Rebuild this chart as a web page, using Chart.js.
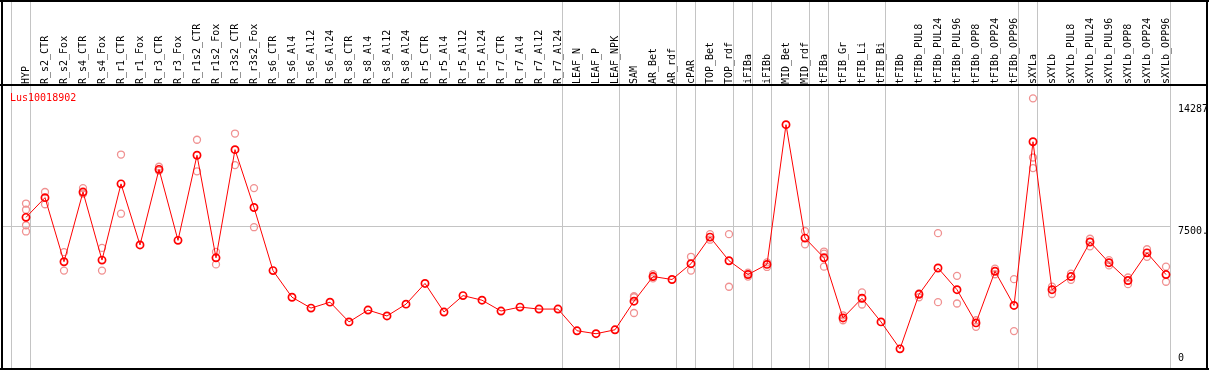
<!DOCTYPE html>
<html><head><meta charset="utf-8">
<script src="https://cdn.jsdelivr.net/npm/chart.js@4.4.0/dist/chart.umd.min.js"></script>
<style>html,body{margin:0;padding:0;background:#fff;overflow:hidden}#wrap{width:1209px;height:370px;position:relative}</style>
</head><body><div id="wrap"><canvas id="c" width="1209" height="370"></canvas></div>
<script>
const geneName = 'Lus10018902';
const categories = ['HYP','R_s2_CTR','R_s2_Fox','R_s4_CTR','R_s4_Fox','R_r1_CTR','R_r1_Fox','R_r3_CTR','R_r3_Fox','R_r1s2_CTR','R_r1s2_Fox','R_r3s2_CTR','R_r3s2_Fox','R_s6_CTR','R_s6_Al4','R_s6_Al12','R_s6_Al24','R_s8_CTR','R_s8_Al4','R_s8_Al12','R_s8_Al24','R_r5_CTR','R_r5_Al4','R_r5_Al12','R_r5_Al24','R_r7_CTR','R_r7_Al4','R_r7_Al12','R_r7_Al24','LEAF_N','LEAF_P','LEAF_NPK','SAM','AR_Bet','AR_rdf','cPAR','TOP_Bet','TOP_rdf','iFIBa','iFIBb','MID_Bet','MID_rdf','tFIBa','tFIB_Gr','tFIB_Li','tFIB_Bi','tFIBb','tFIBb_PUL8','tFIBb_PUL24','tFIBb_PUL96','tFIBb_OPP8','tFIBb_OPP24','tFIBb_OPP96','sXYLa','sXYLb','sXYLb_PUL8','sXYLb_PUL24','sXYLb_PUL96','sXYLb_OPP8','sXYLb_OPP24','sXYLb_OPP96'];
const meanValues = [7973,9043,5565,9347,5654,9792,6475,10577,6725,11344,5779,11647,8508,5083,3639,3050,3371,2301,2943,2622,3264,4388,2836,3728,3478,2890,3104,2997,2997,1819,1659,1873,3425,4762,4602,5458,6903,5619,4869,5422,13003,6849,5779,2515,3585,2301,838,3799,5226,4049,2247,5048,3193,12076,4049,4762,6635,5512,4548,6047,4869];
const rep1 = [8722,9348,6084,9562,6314,11381,null,10718,null,12184,6100,12521,9562,null,null,null,null,null,null,null,null,null,null,null,null,null,null,null,null,null,null,null,3692,4885,null,5833,7063,7063,4976,5528,null,7224,6118,2659,3906,null,null,3639,7117,4799,2390,5190,4620,14432,4211,4923,6813,5656,4709,6244,5297];
const rep2 = [8385,8685,5083,9257,5083,8171,null,10504,null,10472,5421,10809,7438,null,null,null,null,null,null,null,null,null,null,null,null,null,null,null,null,null,null,null,3639,4660,null,5083,6760,4209,4760,5281,null,6511,5297,2390,3246,null,null,3850,3371,3300,2033,4886,1802,11221,3815,4586,6404,5367,4350,5833,4479];
const rep3 = [7545,null,null,null,null,null,null,null,null,null,null,null,null,null,null,null,null,null,null,null,null,null,null,null,null,null,null,null,null,null,null,null,2783,null,null,null,null,null,null,null,null,null,6000,null,null,null,null,null,null,null,null,null,null,10648,null,null,null,null,null,null,null];
const rep4 = [7208,null,null,null,null,null,null,null,null,null,null,null,null,null,null,null,null,null,null,null,null,null,null,null,null,null,null,null,null,null,null,null,null,null,null,null,null,null,null,null,null,null,null,null,null,null,null,null,null,null,null,null,null,null,null,null,null,null,null,null,null];
const yTickValues = [14287, 7500, 0];
const yTickLabels = ['14287', '7500.', '0'];
const groupSeparators = [-1,0,28,31,34,35,37,38,39,41,42,45,52,53,60];

const RED = '#ff0000';
const PINK = 'rgb(240,145,145)';
const GRAY = '#c4c4c4';
const MONO = '"DejaVu Sans Mono", "Liberation Mono", monospace';

const decor = {
  id: 'decor',
  beforeDatasetsDraw(chart) {
    const ctx = chart.ctx, xs = chart.scales.x, ys = chart.scales.y;
    ctx.save();
    ctx.fillStyle = GRAY;
    groupSeparators.forEach(i => {
      const px = Math.floor(xs.getPixelForValue(i) + 4);
      ctx.fillRect(px, 0, 1, 370);
    });
    const gy = Math.round(ys.getPixelForValue(7500));
    const rightEdge = Math.floor(xs.getPixelForValue(60) + 4);
    ctx.fillRect(2, gy, rightEdge - 2, 1);
    ctx.restore();
  },
  afterDraw(chart) {
    const ctx = chart.ctx, xs = chart.scales.x, ys = chart.scales.y, area = chart.chartArea;
    ctx.save();
    // category labels (rotated)
    ctx.fillStyle = '#000';
    ctx.font = '10px ' + MONO;
    ctx.textAlign = 'left';
    ctx.textBaseline = 'alphabetic';
    categories.forEach((c, i) => {
      const px = xs.getPixelForValue(i);
      ctx.save();
      ctx.translate(Math.round(px) + 3, 84);
      ctx.rotate(-Math.PI / 2);
      ctx.fillText(c, 0, 0);
      ctx.restore();
    });
    // title
    ctx.fillStyle = RED;
    ctx.font = '10px ' + MONO;
    ctx.fillText(geneName, 10, 101);
    // right value labels
    ctx.save();
    ctx.beginPath(); ctx.rect(0, 0, 1206, 370); ctx.clip();
    ctx.fillStyle = '#000';
    ctx.font = '10px ' + MONO;
    yTickValues.forEach((v, k) => {
      let by = ys.getPixelForValue(v) + 8;
      by = Math.max(area.top + 11, Math.min(area.bottom - 3, by));
      ctx.fillText(yTickLabels[k], 1178, Math.round(by));
    });
    ctx.restore();
    // frame
    ctx.fillStyle = '#000';
    ctx.fillRect(0, 0, 1209, 2);
    ctx.fillRect(0, 368, 1209, 2);
    ctx.fillRect(1, 0, 2, 370);
    ctx.fillRect(1206, 0, 2, 370);
    ctx.fillRect(0, 84, 1207, 2);
    ctx.restore();
  }
};

function repSet(arr) {
  return {
    type: 'line', data: arr, showLine: false, order: 1, clip: false,
    pointRadius: 3.5, pointBorderWidth: 1.3, pointBorderColor: PINK,
    pointBackgroundColor: 'rgba(0,0,0,0)', borderColor: PINK
  };
}

new Chart(document.getElementById('c'), {
  type: 'line',
  data: {
    labels: categories,
    datasets: [
      { data: meanValues, order: 0, clip: false, borderColor: RED, borderWidth: 1,
        tension: 0, pointRadius: 3.6, pointBorderWidth: 1.7, pointBorderColor: RED,
        pointBackgroundColor: 'rgba(0,0,0,0)', fill: false },
      repSet(rep1), repSet(rep2), repSet(rep3), repSet(rep4)
    ]
  },
  options: {
    responsive: false, devicePixelRatio: 1, animation: false, events: [],
    layout: { padding: { left: 26, right: 43, top: 101, bottom: 2 } },
    scales: {
      x: { type: 'category', display: false, offset: false },
      y: { type: 'linear', display: false, min: 0, max: 14287 }
    },
    plugins: { legend: { display: false }, tooltip: { enabled: false } }
  },
  plugins: [decor]
});
</script></body></html>
